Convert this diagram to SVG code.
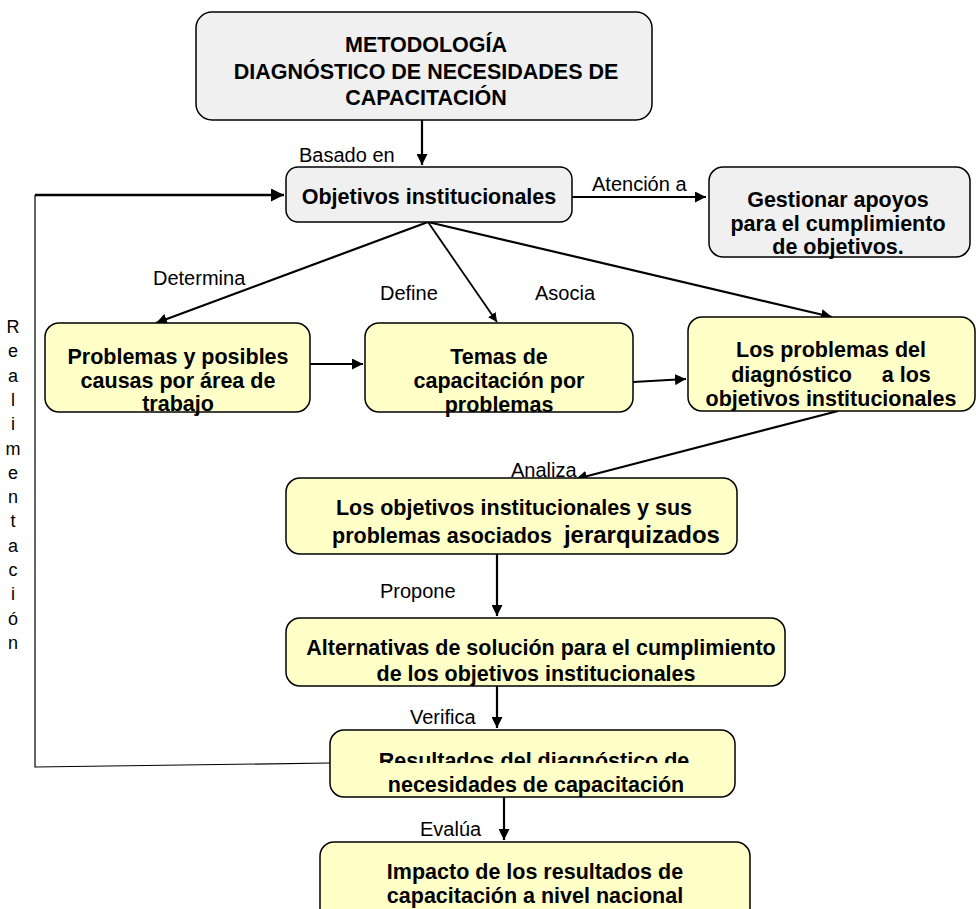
<svg xmlns="http://www.w3.org/2000/svg" width="976" height="909" viewBox="0 0 976 909">
<style>
.gray{fill:#f0f0f0;stroke:#000;stroke-width:1.5}
.yel{fill:#ffffc8;stroke:#000;stroke-width:1.5}
.bt{font-family:"Liberation Sans",Arial,sans-serif;font-weight:bold;font-size:21.5px;text-anchor:middle;fill:#000}
.lb{font-family:"Liberation Sans",Arial,sans-serif;font-size:20px;fill:#000}
.rl{font-family:"Liberation Sans",Arial,sans-serif;font-size:18px;fill:#000;text-anchor:middle}
.c{fill:none;stroke:#000;stroke-width:2.2}
.thin{fill:none;stroke:#000;stroke-width:1.2}
</style>
<defs>
<marker id="ah" viewBox="0 0 10 10" refX="10" refY="5" markerWidth="5" markerHeight="5" markerUnits="strokeWidth" orient="auto">
<path d="M0,0 L10,5 L0,10 z" fill="#000"/>
</marker>
<clipPath id="clipRes"><rect x="330" y="730" width="410" height="33"/></clipPath>
</defs>
<rect width="976" height="909" fill="#fff"/>
<g id="connectors">
<path class="c" d="M422,120 L422,165" marker-end="url(#ah)"/>
<path class="thin" d="M330,763 L35,767 L35,195"/>
<path class="c" d="M35,195 L284,195" marker-end="url(#ah)" style="stroke-width:2.6"/>
<path class="c" d="M572,197 L706,197" marker-end="url(#ah)"/>
<path class="c" d="M428,222 L156,323" marker-end="url(#ah)"/>
<path class="c" d="M428,222 L497,322" marker-end="url(#ah)" style="stroke-width:1.8"/>
<path class="c" d="M428,222 L832,317" marker-end="url(#ah)"/>
<path class="c" d="M310,364 L363,364" marker-end="url(#ah)"/>
<path class="c" d="M633,382 L686,379" marker-end="url(#ah)"/>
<path class="c" d="M838,411 L576,479" marker-end="url(#ah)"/>
<path class="c" d="M497,554 L497,616" marker-end="url(#ah)"/>
<path class="c" d="M497,686 L497,728" marker-end="url(#ah)"/>
<path class="c" d="M504,797 L504,840" marker-end="url(#ah)"/>
<text class="lb" x="299" y="162">Basado en</text>
<text class="lb" x="592" y="191">Atención a</text>
<text class="lb" x="153" y="285">Determina</text>
<text class="lb" x="380" y="300">Define</text>
<text class="lb" x="535" y="300">Asocia</text>
<text class="lb" x="511" y="477">Analiza</text>
<text class="lb" x="380" y="598">Propone</text>
<text class="lb" x="410" y="724">Verifica</text>
<text class="lb" x="420" y="836">Evalúa</text>
<g id="realimentacion">
<text class="rl" x="13" y="333">R</text>
<text class="rl" x="13" y="357">e</text>
<text class="rl" x="13" y="382">a</text>
<text class="rl" x="13" y="406">l</text>
<text class="rl" x="13" y="430">i</text>
<text class="rl" x="13" y="455">m</text>
<text class="rl" x="13" y="479">e</text>
<text class="rl" x="13" y="503">n</text>
<text class="rl" x="13" y="527">t</text>
<text class="rl" x="13" y="552">a</text>
<text class="rl" x="13" y="576">c</text>
<text class="rl" x="13" y="600">i</text>
<text class="rl" x="13" y="625">ó</text>
<text class="rl" x="13" y="649">n</text>
</g>
</g>
<g id="metodologia">
<rect class="gray" x="196" y="12" width="456" height="108" rx="16"/>
<text class="bt" x="426" y="52">METODOLOGÍA</text>
<text class="bt" x="426" y="79">DIAGNÓSTICO DE NECESIDADES DE</text>
<text class="bt" x="426" y="105">CAPACITACIÓN</text>
</g>
<g id="objetivos">
<rect class="gray" x="286" y="167" width="286" height="55" rx="12"/>
<text class="bt" x="429" y="204">Objetivos institucionales</text>
</g>
<g id="gestionar">
<rect class="gray" x="709" y="167" width="261" height="90" rx="14"/>
<text class="bt" x="838" y="207">Gestionar apoyos</text>
<text class="bt" x="838" y="231">para el cumplimiento</text>
<text class="bt" x="838" y="254">de objetivos.</text>
</g>
<g id="problemas">
<rect class="yel" x="45" y="323" width="265" height="89" rx="14"/>
<text class="bt" x="178" y="364">Problemas y posibles</text>
<text class="bt" x="178" y="388">causas por área de</text>
<text class="bt" x="178" y="411">trabajo</text>
</g>
<g id="temas">
<rect class="yel" x="365" y="323" width="268" height="89" rx="14"/>
<text class="bt" x="499" y="364">Temas de</text>
<text class="bt" x="499" y="388">capacitación por</text>
<text class="bt" x="499" y="412">problemas</text>
</g>
<g id="losproblemas">
<rect class="yel" x="688" y="317" width="287" height="94" rx="14"/>
<text class="bt" x="831" y="357">Los problemas del</text>
<text class="bt" x="831" y="382" xml:space="preserve">diagnóstico     a los</text>
<text class="bt" x="831" y="406">objetivos institucionales</text>
</g>
<g id="jerarquizados">
<rect class="yel" x="286" y="478" width="451" height="76" rx="14"/>
<text class="bt" x="514" y="515">Los objetivos institucionales y sus</text>
<text class="bt" x="526" y="543" xml:space="preserve">problemas asociados  <tspan font-size="24">jerarquizados</tspan></text>
</g>
<g id="alternativas">
<rect class="yel" x="286" y="618" width="499" height="68" rx="14"/>
<text class="bt" x="541" y="655">Alternativas de solución para el cumplimiento</text>
<text class="bt" x="536" y="681">de los objetivos institucionales</text>
</g>
<g id="resultados">
<rect class="yel" x="330" y="730" width="405" height="67" rx="14"/>
<text class="bt" x="534" y="768" clip-path="url(#clipRes)">Resultados del diagnóstico de</text>
<text class="bt" x="536" y="792">necesidades de capacitación</text>
</g>
<g id="impacto">
<rect class="yel" x="320" y="842" width="430" height="80" rx="14"/>
<text class="bt" x="535" y="879">Impacto de los resultados de</text>
<text class="bt" x="535" y="903">capacitación a nivel nacional</text>
</g>
</svg>
